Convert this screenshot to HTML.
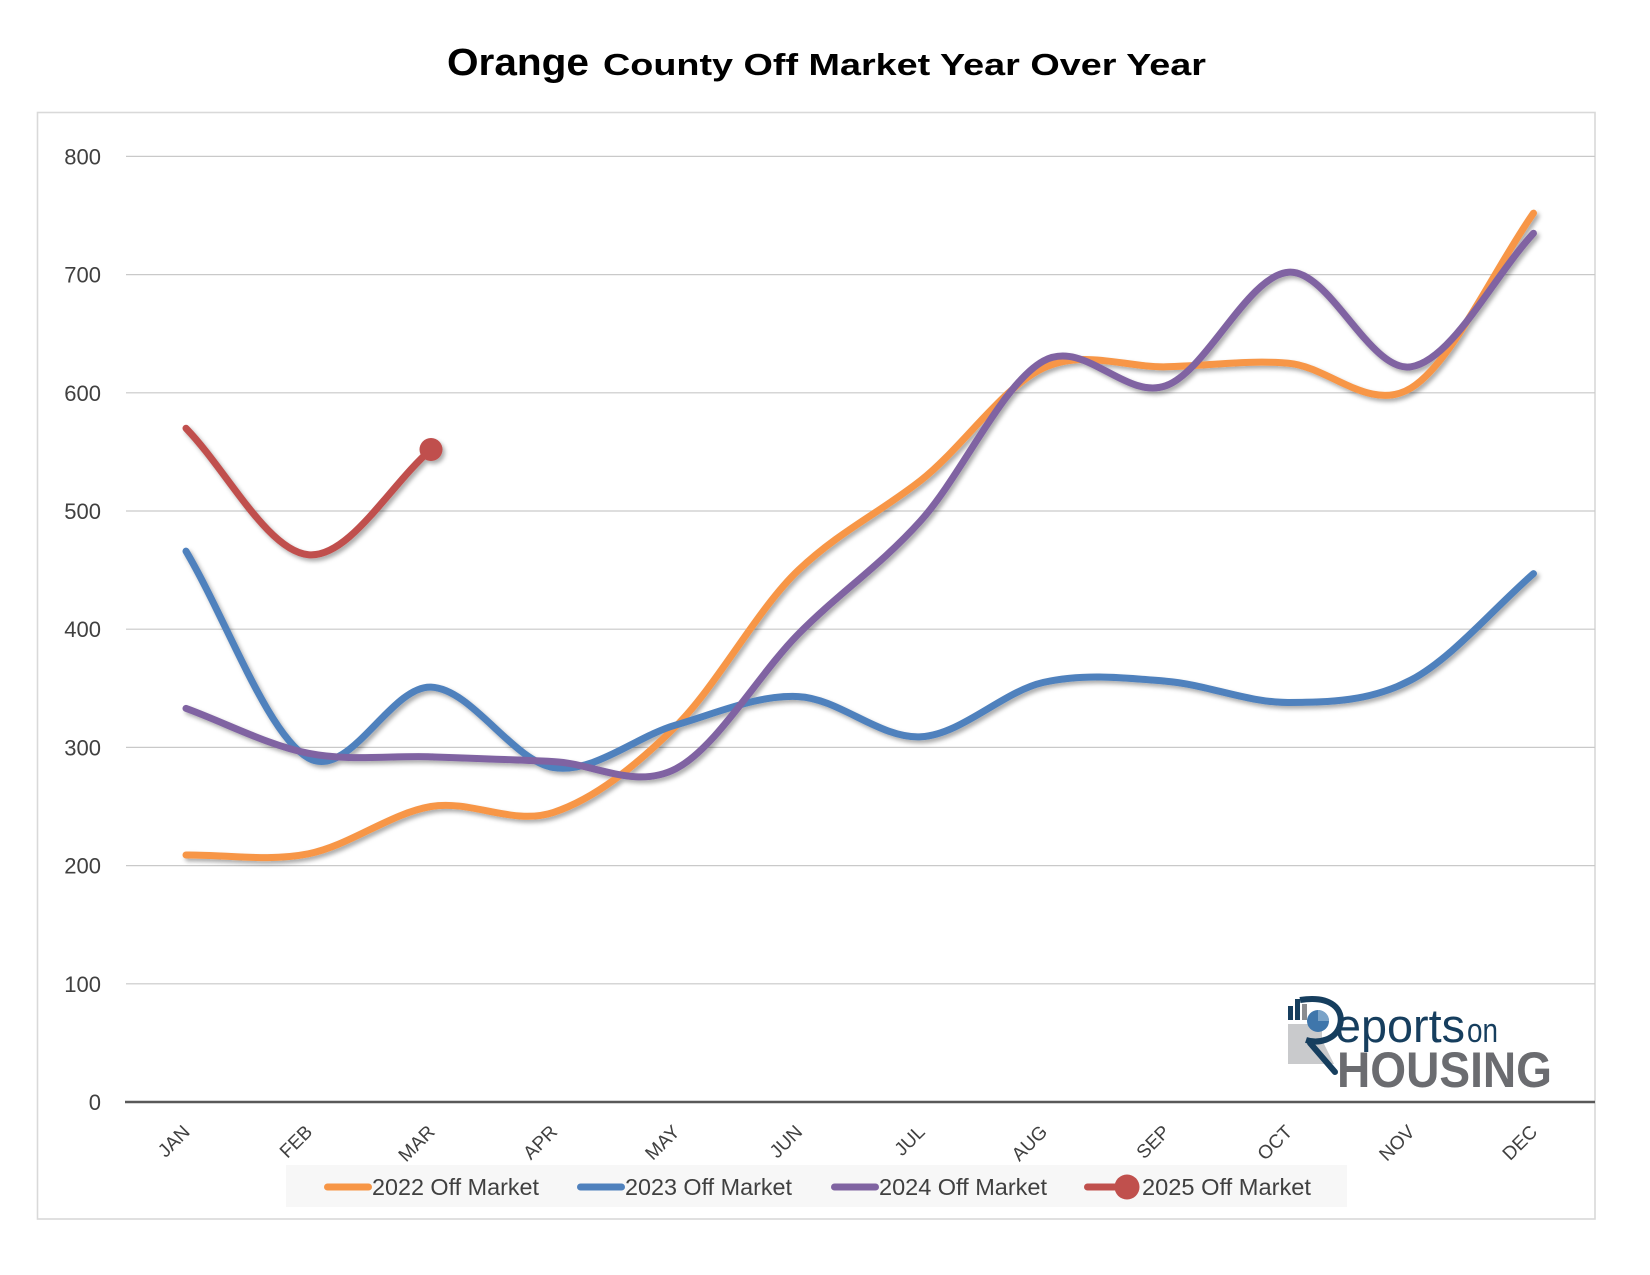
<!DOCTYPE html>
<html>
<head>
<meta charset="utf-8">
<style>
  html,body{margin:0;padding:0;background:#fff;}
  svg{display:block;}
  text{font-family:"Liberation Sans", Arial, sans-serif;}
</style>
</head>
<body>
<svg width="1650" height="1275" viewBox="0 0 1650 1275" xmlns="http://www.w3.org/2000/svg">
  <defs>
    <filter id="sh" x="-5%" y="-10%" width="110%" height="125%">
      <feDropShadow dx="2.5" dy="3" stdDeviation="2" flood-color="#000" flood-opacity="0.33"/>
    </filter>
  </defs>
  <rect x="0" y="0" width="1650" height="1275" fill="#ffffff"/>

  <!-- Title -->
  <text x="447" y="75" font-size="38" font-weight="bold" fill="#000" textLength="142" lengthAdjust="spacingAndGlyphs">Orange</text>
  <text x="603" y="75" font-size="31" font-weight="bold" fill="#000" textLength="603" lengthAdjust="spacingAndGlyphs">County Off Market Year Over Year</text>

  <!-- Plot border -->
  <rect x="37.5" y="112.5" width="1557.5" height="1106.5" fill="none" stroke="#d9d9d9" stroke-width="1.6"/>

  <!-- Gridlines -->
  <g stroke="#c9c9c9" stroke-width="1.2">
    <line x1="126" y1="156.4" x2="1595" y2="156.4"/>
    <line x1="126" y1="274.6" x2="1595" y2="274.6"/>
    <line x1="126" y1="392.8" x2="1595" y2="392.8"/>
    <line x1="126" y1="511" x2="1595" y2="511"/>
    <line x1="126" y1="629.2" x2="1595" y2="629.2"/>
    <line x1="126" y1="747.4" x2="1595" y2="747.4"/>
    <line x1="126" y1="865.6" x2="1595" y2="865.6"/>
    <line x1="126" y1="983.8" x2="1595" y2="983.8"/>
  </g>
  <line x1="125" y1="1102" x2="1595" y2="1102" stroke="#595959" stroke-width="2.6"/>

  <!-- Y labels -->
  <g font-size="22" fill="#404040" text-anchor="end">
    <text x="101" y="164.4">800</text>
    <text x="101" y="282.6">700</text>
    <text x="101" y="400.8">600</text>
    <text x="101" y="519">500</text>
    <text x="101" y="637.2">400</text>
    <text x="101" y="755.4">300</text>
    <text x="101" y="873.6">200</text>
    <text x="101" y="991.8">100</text>
    <text x="101" y="1110">0</text>
  </g>

  <!-- X labels -->
  <g font-size="19" fill="#404040" text-anchor="end">
    <text x="191" y="1133" transform="rotate(-45 191 1133)">JAN</text>
    <text x="313.5" y="1133" transform="rotate(-45 313.5 1133)">FEB</text>
    <text x="436" y="1133" transform="rotate(-45 436 1133)">MAR</text>
    <text x="558.5" y="1133" transform="rotate(-45 558.5 1133)">APR</text>
    <text x="681" y="1133" transform="rotate(-45 681 1133)">MAY</text>
    <text x="803.5" y="1133" transform="rotate(-45 803.5 1133)">JUN</text>
    <text x="926" y="1133" transform="rotate(-45 926 1133)">JUL</text>
    <text x="1048.5" y="1133" transform="rotate(-45 1048.5 1133)">AUG</text>
    <text x="1171" y="1133" transform="rotate(-45 1171 1133)">SEP</text>
    <text x="1293.5" y="1133" transform="rotate(-45 1293.5 1133)">OCT</text>
    <text x="1416" y="1133" transform="rotate(-45 1416 1133)">NOV</text>
    <text x="1538.5" y="1133" transform="rotate(-45 1538.5 1133)">DEC</text>
  </g>

  <!-- Logo -->
  <g>
    <polygon points="1288,1024 1322,1024 1322,1040 1334,1064 1288,1064" fill="#c9cacc"/>
    <rect x="1288" y="1006" width="5" height="14" fill="#163e5e"/>
    <rect x="1295" y="999" width="5" height="21" fill="#163e5e"/>
    <rect x="1302" y="1004" width="5" height="16" fill="#8a8c90"/>
    <path d="M1300,1000 C1332,995 1344,1010 1340,1025 C1336,1040 1318,1044 1306,1040" fill="none" stroke="#163e5e" stroke-width="6"/>
    <circle cx="1318" cy="1021" r="11" fill="#3f76ab"/>
    <path d="M1318,1021 L1318,1010 A11,11 0 0,1 1329,1021 Z" fill="#7aa3c8"/>
    <line x1="1310" y1="1043" x2="1335" y2="1072" stroke="#163e5e" stroke-width="6" stroke-linecap="round"/>
    <text x="1335" y="1042" font-size="47" fill="#163e5e" textLength="130" lengthAdjust="spacingAndGlyphs">eports</text>
    <text x="1467" y="1042" font-size="34" fill="#163e5e" textLength="31" lengthAdjust="spacingAndGlyphs">on</text>
    <text x="1337" y="1087" font-size="50" font-weight="bold" fill="#6b6c70" textLength="215" lengthAdjust="spacingAndGlyphs">HOUSING</text>
  </g>

  <!-- Series -->
  <g filter="url(#sh)" fill="none" stroke-linecap="round" stroke-linejoin="round">
    <path transform="matrix(122.5 0 0 -1.182 186 1102)" vector-effect="non-scaling-stroke" stroke="#f79646" stroke-width="7"
      d="M0,209 C0.333,209.33 0.667,203.17 1,210 C1.333,216.83 1.667,244.17 2,250 C2.333,255.83 2.667,233.67 3,245 C3.333,256.33 3.667,283.83 4,318 C4.333,352.17 4.667,417.33 5,450 C5.333,482.67 5.667,498.83 6,526 C6.333,553.17 6.667,605 7,621 C7.333,637 7.667,621.33 8,622 C8.333,622.67 8.667,628 9,625 C9.333,622 9.667,582.83 10,604 C10.333,625.17 10.667,702.67 11,752"/>
    <path transform="matrix(122.5 0 0 -1.182 186 1102)" vector-effect="non-scaling-stroke" stroke="#4f81bd" stroke-width="7"
      d="M0,466 C0.333,407.67 0.667,310.17 1,291 C1.333,271.83 1.667,352.33 2,351 C2.333,349.67 2.667,288.33 3,283 C3.333,277.67 3.667,309 4,319 C4.333,329 4.667,344.67 5,343 C5.333,341.33 5.667,307 6,309 C6.333,311 6.667,347.17 7,355 C7.333,362.83 7.667,358.83 8,356 C8.333,353.17 8.667,337.83 9,338 C9.333,338.17 9.667,338.83 10,357 C10.333,375.17 10.667,417 11,447"/>
    <path transform="matrix(122.5 0 0 -1.182 186 1102)" vector-effect="non-scaling-stroke" stroke="#8064a2" stroke-width="7"
      d="M0,333 C0.333,320.33 0.667,301.83 1,295 C1.333,288.17 1.667,293.17 2,292 C2.333,290.83 2.667,289.67 3,288 C3.333,286.33 3.667,264 4,282 C4.333,300 4.667,361 5,396 C5.333,431 5.667,453.5 6,492 C6.333,530.5 6.667,608 7,627 C7.333,646 7.667,593.5 8,606 C8.333,618.5 8.667,699.33 9,702 C9.333,704.67 9.667,616.5 10,622 C10.333,627.5 10.667,697.33 11,735"/>
    <path transform="matrix(122.5 0 0 -1.182 186 1102)" vector-effect="non-scaling-stroke" stroke="#c0504d" stroke-width="7"
      d="M0,570 C0.333,534.33 0.667,466 1,463 C1.333,460 1.667,522.33 2,552"/>
    <circle cx="431" cy="449.5" r="11.5" fill="#c0504d" stroke="none"/>
  </g>

  <!-- Legend -->
  <rect x="286" y="1165" width="1061" height="42" fill="#f7f7f7"/>
  <g stroke-linecap="round" stroke-width="7">
    <line x1="327.5" y1="1187" x2="368.5" y2="1187" stroke="#f79646"/>
    <line x1="580.5" y1="1187" x2="621.5" y2="1187" stroke="#4f81bd"/>
    <line x1="834.5" y1="1187" x2="875.5" y2="1187" stroke="#8064a2"/>
    <line x1="1087.5" y1="1187" x2="1125" y2="1187" stroke="#c0504d"/>
  </g>
  <circle cx="1127" cy="1187" r="12.5" fill="#c0504d"/>
  <g font-size="23" fill="#404040">
    <text x="372" y="1195" textLength="167" lengthAdjust="spacingAndGlyphs">2022 Off Market</text>
    <text x="625" y="1195" textLength="167" lengthAdjust="spacingAndGlyphs">2023 Off Market</text>
    <text x="879" y="1195" textLength="168" lengthAdjust="spacingAndGlyphs">2024 Off Market</text>
    <text x="1142" y="1195" textLength="169" lengthAdjust="spacingAndGlyphs">2025 Off Market</text>
  </g>
</svg>
</body>
</html>
